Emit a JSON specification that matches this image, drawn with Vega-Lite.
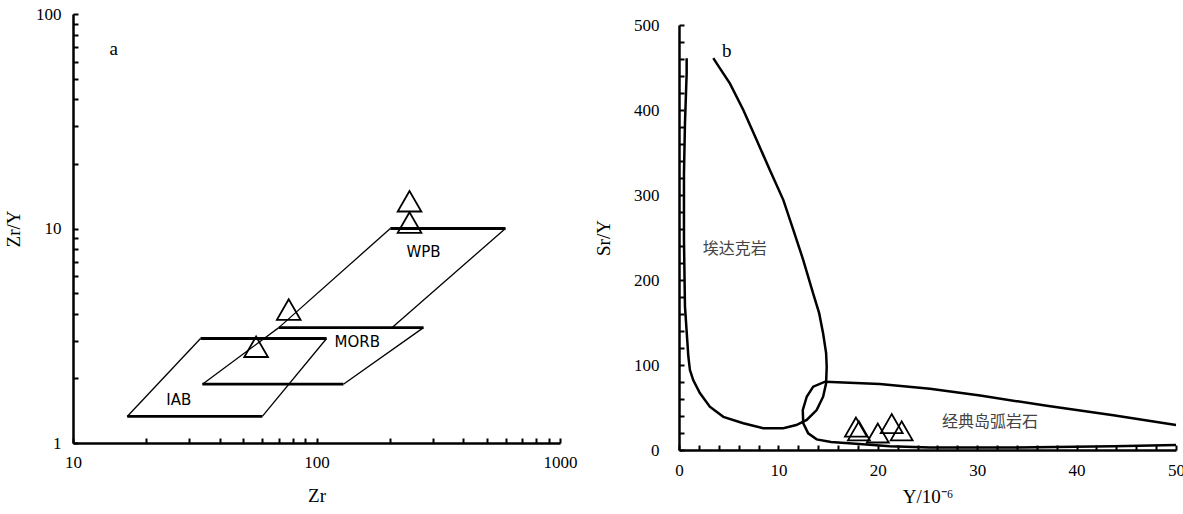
{
  "$schema": "https://vega.github.io/schema/vega-lite/v6.json",
  "background": "white",
  "padding": {"left": 4, "top": 5, "right": 0, "bottom": 0},
  "spacing": 17,
  "datasets": {
    "zrLines": [
      {"seg": "WPB-top", "edge": "horizontal", "zr": 201, "zry": 10},
      {"seg": "WPB-top", "edge": "horizontal", "zr": 597, "zry": 10},
      {"seg": "WPB-right", "edge": "slanted", "zr": 597, "zry": 10},
      {"seg": "WPB-right", "edge": "slanted", "zr": 204, "zry": 3.45},
      {"seg": "WPB-left", "edge": "slanted", "zr": 201, "zry": 10},
      {"seg": "WPB-left", "edge": "slanted", "zr": 70, "zry": 3.45},
      {"seg": "MORB-top", "edge": "horizontal", "zr": 70, "zry": 3.45},
      {"seg": "MORB-top", "edge": "horizontal", "zr": 275, "zry": 3.45},
      {"seg": "MORB-right", "edge": "slanted", "zr": 275, "zry": 3.45},
      {"seg": "MORB-right", "edge": "slanted", "zr": 129, "zry": 1.88},
      {"seg": "MORB-bottom", "edge": "horizontal", "zr": 34, "zry": 1.88},
      {"seg": "MORB-bottom", "edge": "horizontal", "zr": 129, "zry": 1.88},
      {"seg": "MORB-left", "edge": "slanted", "zr": 34, "zry": 1.88},
      {"seg": "MORB-left", "edge": "slanted", "zr": 70, "zry": 3.45},
      {"seg": "IAB-top", "edge": "horizontal", "zr": 33.4, "zry": 3.07},
      {"seg": "IAB-top", "edge": "horizontal", "zr": 110, "zry": 3.07},
      {"seg": "IAB-right", "edge": "slanted", "zr": 110, "zry": 3.07},
      {"seg": "IAB-right", "edge": "slanted", "zr": 59.9, "zry": 1.33},
      {"seg": "IAB-bottom", "edge": "horizontal", "zr": 16.7, "zry": 1.33},
      {"seg": "IAB-bottom", "edge": "horizontal", "zr": 59.9, "zry": 1.33},
      {"seg": "IAB-left", "edge": "slanted", "zr": 16.7, "zry": 1.33},
      {"seg": "IAB-left", "edge": "slanted", "zr": 33.4, "zry": 3.07}
    ],
    "zrPoints": [
      {"zr": 241, "zry": 13.4},
      {"zr": 241, "zry": 10.66},
      {"zr": 76.9, "zry": 4.19},
      {"zr": 56.5, "zry": 2.81}
    ],
    "zrLabels": [
      {"label": "a", "kind": "panel", "zr": 14.7, "zry": 69},
      {"label": "WPB", "kind": "field", "zr": 275, "zry": 7.73},
      {"label": "MORB", "kind": "field", "zr": 147, "zry": 2.96},
      {"label": "IAB", "kind": "field", "zr": 27.2, "zry": 1.58}
    ],
    "srCurves": [
      {"curve": "adakite", "i": 1, "y": 0.77, "sr": 461},
      {"curve": "adakite", "i": 2, "y": 0.77, "sr": 443},
      {"curve": "adakite", "i": 3, "y": 0.6, "sr": 384},
      {"curve": "adakite", "i": 4, "y": 0.5, "sr": 325},
      {"curve": "adakite", "i": 5, "y": 0.5, "sr": 247},
      {"curve": "adakite", "i": 6, "y": 0.6, "sr": 169},
      {"curve": "adakite", "i": 7, "y": 0.94, "sr": 110},
      {"curve": "adakite", "i": 8, "y": 1.1, "sr": 94},
      {"curve": "adakite", "i": 9, "y": 1.44, "sr": 82},
      {"curve": "adakite", "i": 10, "y": 2.1, "sr": 67},
      {"curve": "adakite", "i": 11, "y": 3.1, "sr": 51},
      {"curve": "adakite", "i": 12, "y": 4.46, "sr": 39},
      {"curve": "adakite", "i": 13, "y": 6.47, "sr": 31.4},
      {"curve": "adakite", "i": 14, "y": 8.48, "sr": 25.5},
      {"curve": "adakite", "i": 15, "y": 10.5, "sr": 25.5},
      {"curve": "adakite", "i": 16, "y": 11.8, "sr": 29.4},
      {"curve": "adakite", "i": 17, "y": 12.85, "sr": 35.3},
      {"curve": "adakite", "i": 18, "y": 13.85, "sr": 47},
      {"curve": "adakite", "i": 19, "y": 14.5, "sr": 62.7},
      {"curve": "adakite", "i": 20, "y": 14.8, "sr": 78.4},
      {"curve": "adakite", "i": 21, "y": 14.86, "sr": 98},
      {"curve": "adakite", "i": 22, "y": 14.8, "sr": 114},
      {"curve": "adakite", "i": 23, "y": 14.5, "sr": 137},
      {"curve": "adakite", "i": 24, "y": 14.1, "sr": 161},
      {"curve": "adakite", "i": 25, "y": 13.5, "sr": 184},
      {"curve": "adakite", "i": 26, "y": 12.5, "sr": 223.5},
      {"curve": "adakite", "i": 27, "y": 11.5, "sr": 259},
      {"curve": "adakite", "i": 28, "y": 10.5, "sr": 294},
      {"curve": "adakite", "i": 29, "y": 9.15, "sr": 329},
      {"curve": "adakite", "i": 30, "y": 7.8, "sr": 365},
      {"curve": "adakite", "i": 31, "y": 6.47, "sr": 400},
      {"curve": "adakite", "i": 32, "y": 5.13, "sr": 431},
      {"curve": "adakite", "i": 33, "y": 4.12, "sr": 449},
      {"curve": "adakite", "i": 34, "y": 3.45, "sr": 461},
      {"curve": "arc", "i": 1, "y": 50, "sr": 29.4},
      {"curve": "arc", "i": 2, "y": 43.7, "sr": 41},
      {"curve": "arc", "i": 3, "y": 37, "sr": 52},
      {"curve": "arc", "i": 4, "y": 30.3, "sr": 64},
      {"curve": "arc", "i": 5, "y": 25.25, "sr": 72},
      {"curve": "arc", "i": 6, "y": 20.2, "sr": 77.6},
      {"curve": "arc", "i": 7, "y": 14.7, "sr": 80.4},
      {"curve": "arc", "i": 8, "y": 13.5, "sr": 74.5},
      {"curve": "arc", "i": 9, "y": 12.85, "sr": 62.7},
      {"curve": "arc", "i": 10, "y": 12.45, "sr": 47},
      {"curve": "arc", "i": 11, "y": 12.5, "sr": 31.4},
      {"curve": "arc", "i": 12, "y": 13.0, "sr": 19.6},
      {"curve": "arc", "i": 13, "y": 13.85, "sr": 12.5},
      {"curve": "arc", "i": 14, "y": 15.3, "sr": 9.5},
      {"curve": "arc", "i": 15, "y": 18.5, "sr": 6.8},
      {"curve": "arc", "i": 16, "y": 21.2, "sr": 4.5},
      {"curve": "arc", "i": 17, "y": 25.25, "sr": 3},
      {"curve": "arc", "i": 18, "y": 33.6, "sr": 3},
      {"curve": "arc", "i": 19, "y": 43.7, "sr": 4.5},
      {"curve": "arc", "i": 20, "y": 50, "sr": 6}
    ],
    "srPoints": [
      {"y": 17.8, "sr": 27},
      {"y": 18.1, "sr": 22.5},
      {"y": 20.0, "sr": 20},
      {"y": 21.4, "sr": 31},
      {"y": 22.4, "sr": 22.5}
    ],
    "srLabels": [
      {"label": "b", "kind": "panel", "y": 4.8, "sr": 470},
      {"label": "埃达克岩", "kind": "field", "y": 5.6, "sr": 237},
      {"label": "经典岛弧岩石", "kind": "field", "y": 31.3, "sr": 33}
    ]
  },
  "hconcat": [
    {
      "width": 487,
      "height": 429,
      "layer": [
        {
          "data": {"name": "zrLines"},
          "transform": [{"filter": "datum.edge == 'horizontal'"}],
          "mark": {"type": "line", "color": "black", "strokeWidth": 2.8},
          "encoding": {
            "x": {"field": "zr", "type": "quantitative",
              "scale": {"type": "log", "domain": [10, 1000], "nice": false},
              "axis": {"title": "Zr", "values": [10,20,30,40,50,60,70,80,90,100,200,300,400,500,600,700,800,900,1000],
                "labelExpr": "datum.value == 10 || datum.value == 100 || datum.value == 1000 ? format(datum.value, 'd') : ''",
                "labelOverlap": false, "tickCount": 100,
                "tickSize": -5, "labelPadding": 16, "titlePadding": 16}},
            "y": {"field": "zry", "type": "quantitative",
              "scale": {"type": "log", "domain": [1, 100], "nice": false},
              "axis": {"title": "Zr/Y", "values": [1,2,3,4,5,6,7,8,9,10,20,30,40,50,60,70,80,90,100],
                "labelExpr": "datum.value == 1 || datum.value == 10 || datum.value == 100 ? format(datum.value, 'd') : ''",
                "labelOverlap": false, "tickCount": 100,
                "tickSize": -5, "labelPadding": 17, "titlePadding": 12}},
            "detail": {"field": "seg"}
          }
        },
        {
          "data": {"name": "zrLines"},
          "transform": [{"filter": "datum.edge == 'slanted'"}],
          "mark": {"type": "line", "color": "black", "strokeWidth": 1.3},
          "encoding": {
            "x": {"field": "zr", "type": "quantitative"},
            "y": {"field": "zry", "type": "quantitative"},
            "detail": {"field": "seg"}
          }
        },
        {
          "data": {"name": "zrPoints"},
          "mark": {"type": "point", "shape": "triangle-up", "filled": false, "size": 560, "color": "black", "strokeWidth": 1.8, "opacity": 1},
          "encoding": {
            "x": {"field": "zr", "type": "quantitative"},
            "y": {"field": "zry", "type": "quantitative"}
          }
        },
        {
          "data": {"name": "zrLabels"},
          "transform": [{"filter": "datum.kind == 'panel'"}],
          "mark": {"type": "text", "font": "Liberation Serif", "fontSize": 19, "color": "black"},
          "encoding": {
            "x": {"field": "zr", "type": "quantitative"},
            "y": {"field": "zry", "type": "quantitative"},
            "text": {"field": "label"}
          }
        },
        {
          "data": {"name": "zrLabels"},
          "transform": [{"filter": "datum.kind == 'field'"}],
          "mark": {"type": "text", "font": "DejaVu Sans", "fontSize": 15, "color": "black"},
          "encoding": {
            "x": {"field": "zr", "type": "quantitative"},
            "y": {"field": "zry", "type": "quantitative"},
            "text": {"field": "label"}
          }
        }
      ]
    },
    {
      "spacing": -4,
      "vconcat": [
        {
          "width": 497,
          "height": 1,
          "data": {"values": [{}]},
          "mark": {"type": "text", "text": ""},
          "encoding": {}
        },
        {
          "width": 497,
          "height": 425,
          "layer": [
            {
              "data": {"name": "srCurves"},
              "mark": {"type": "line", "color": "black", "strokeWidth": 2.5},
              "encoding": {
                "x": {"field": "y", "type": "quantitative",
                  "scale": {"domain": [0, 50], "nice": false, "zero": false},
                  "axis": {"title": "Y/10⁻⁶", "values": [0,2,4,6,8,10,12,14,16,18,20,22,24,26,28,30,32,34,36,38,40,42,44,46,48,50],
                    "labelExpr": "datum.value == 0 || datum.value == 10 || datum.value == 20 || datum.value == 30 || datum.value == 40 || datum.value == 50 ? format(datum.value, 'd') : ''",
                    "labelOverlap": false, "tickCount": 100,
                    "tickSize": -5, "labelPadding": 17, "titlePadding": 9}},
                "y": {"field": "sr", "type": "quantitative",
                  "scale": {"domain": [0, 500], "nice": false},
                  "axis": {"title": "Sr/Y", "values": [0,20,40,60,80,100,120,140,160,180,200,220,240,260,280,300,320,340,360,380,400,420,440,460,480,500],
                    "labelExpr": "datum.value == 0 || datum.value == 100 || datum.value == 200 || datum.value == 300 || datum.value == 400 || datum.value == 500 ? format(datum.value, 'd') : ''",
                    "labelOverlap": false, "tickCount": 100,
                    "tickSize": -5, "labelPadding": 25, "titlePadding": 20}},
                "detail": {"field": "curve"},
                "order": {"field": "i"}
              }
            },
            {
              "data": {"name": "srPoints"},
              "mark": {"type": "point", "shape": "triangle-up", "filled": false, "size": 480, "color": "black", "strokeWidth": 1.8, "opacity": 1},
              "encoding": {
                "x": {"field": "y", "type": "quantitative"},
                "y": {"field": "sr", "type": "quantitative"}
              }
            },
            {
              "data": {"name": "srLabels"},
              "transform": [{"filter": "datum.kind == 'panel'"}],
              "mark": {"type": "text", "font": "Liberation Serif", "fontSize": 19, "color": "black"},
              "encoding": {
                "x": {"field": "y", "type": "quantitative"},
                "y": {"field": "sr", "type": "quantitative"},
                "text": {"field": "label"}
              }
            },
            {
              "data": {"name": "srLabels"},
              "transform": [{"filter": "datum.kind == 'field'"}],
              "mark": {"type": "text", "font": "Noto Sans CJK SC", "fontSize": 16, "color": "#444444"},
              "encoding": {
                "x": {"field": "y", "type": "quantitative"},
                "y": {"field": "sr", "type": "quantitative"},
                "text": {"field": "label"}
              }
            }
          ]
        }
      ]
    }
  ],
  "config": {
    "view": {"stroke": null},
    "axis": {
      "grid": false,
      "domainColor": "black",
      "domainWidth": 2.5,
      "tickColor": "black",
      "tickWidth": 2,
      "labelFont": "Liberation Serif",
      "labelFontSize": 17,
      "labelColor": "black",
      "labelFlush": false,
      "labelOverlap": false,
      "titleFont": "Liberation Serif",
      "titleFontSize": 19,
      "titleFontWeight": "normal",
      "titleColor": "black"
    }
  }
}
